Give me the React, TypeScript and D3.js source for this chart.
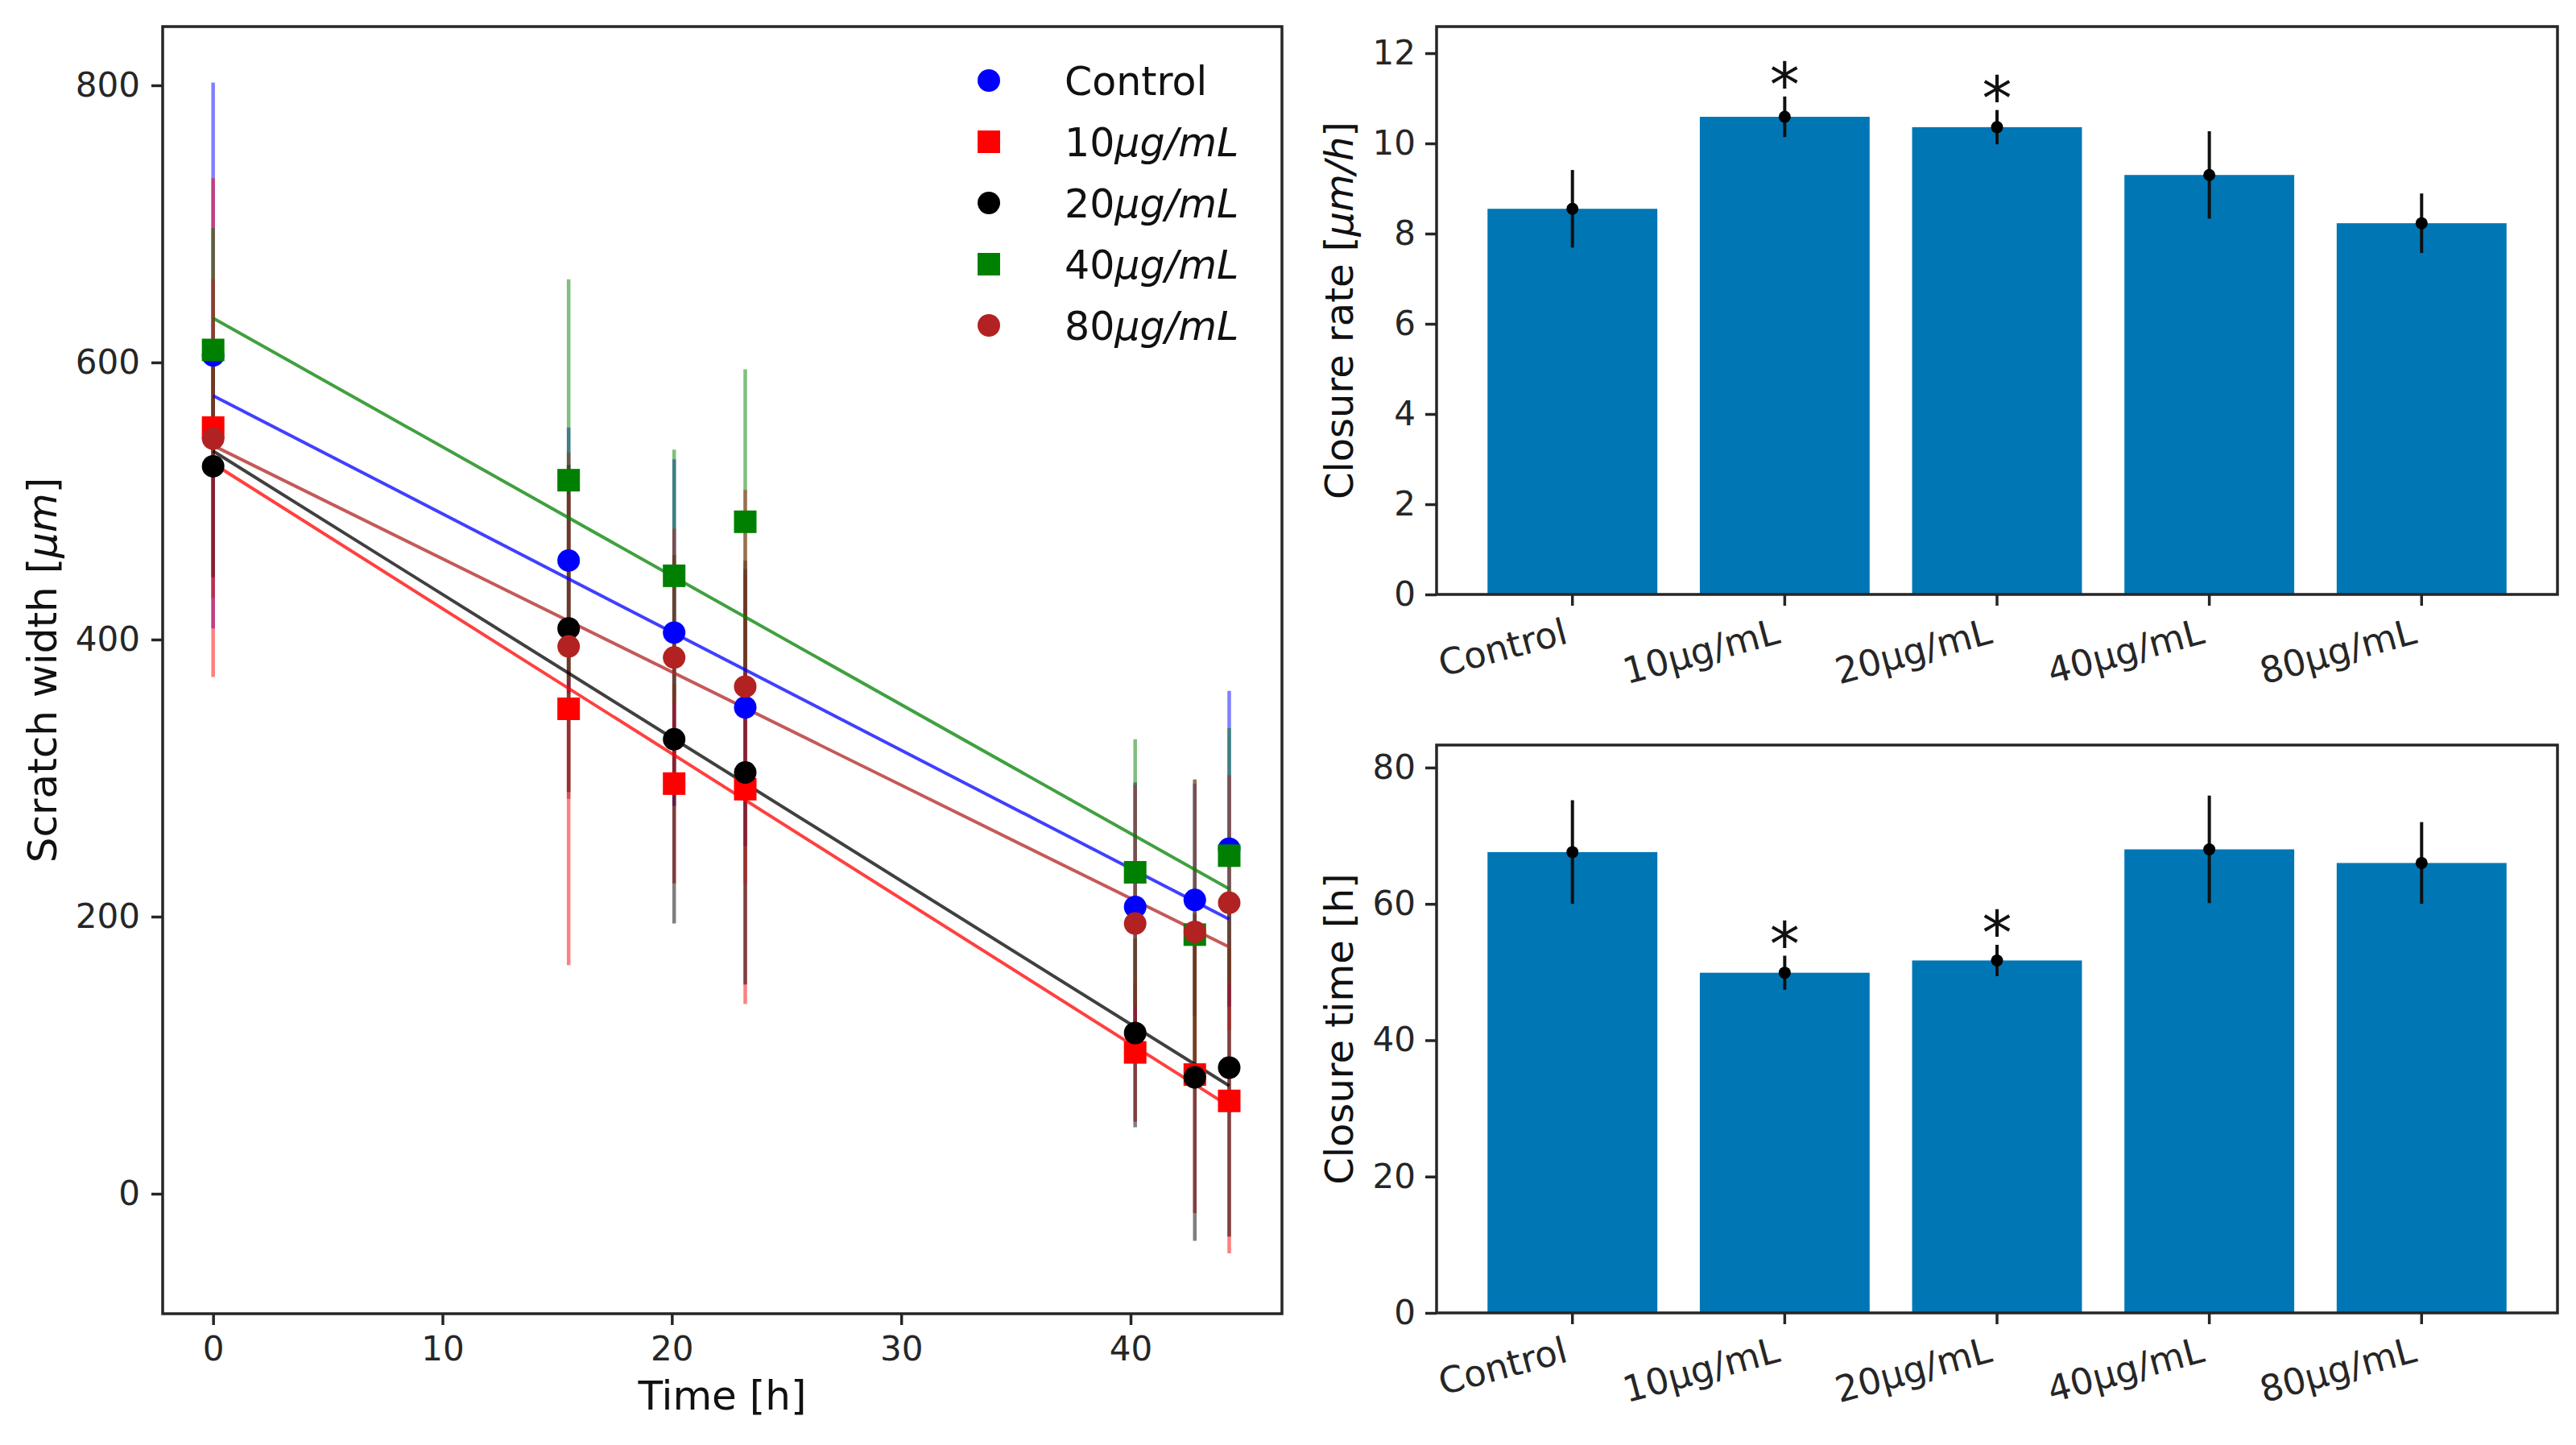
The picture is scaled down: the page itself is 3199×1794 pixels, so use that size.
import React, { useEffect, useRef } from 'react';
import * as d3 from 'd3';

// ---- scratch assay (left panel) ----
const times = [0, 15.5, 20.1, 23.2, 40.2, 42.8, 44.3];
const seriesLabels = ['Control', '10μg/mL', '20μg/mL', '40μg/mL', '80μg/mL'];
const seriesColors = ['#0000ff', '#ff0000', '#000000', '#008000', '#b22222'];
const seriesShapes = ['circle', 'square', 'circle', 'square', 'circle'];

const controlMean = [605, 457, 405, 351, 207, 212, 249];
const controlErr = [197, 96, 125, 100, 90, 84, 114];
const c10Mean = [553, 350, 296, 292, 102, 86, 67];
const c10Err = [180, 185, 72, 155, 50, 100, 110];
const c20Mean = [525, 408, 328, 304, 116, 84, 91];
const c20Err = [80, 118, 133, 153, 68, 118, 122];
const c40Mean = [609, 515, 446, 485, 232, 187, 244];
const c40Err = [88, 145, 91, 110, 96, 112, 92];
const c80Mean = [545, 395, 387, 366, 195, 189, 210];
const c80Err = [115, 110, 93, 142, 100, 110, 92];

// linear fits: value at t = 0 and slope (µm/h)
const fitStart = [576, 527, 536, 632, 540];
const fitSlope = [-8.53, -10.47, -10.34, -9.3, -8.17];

const xTicks = [0, 10, 20, 30, 40];
const yTicks = [0, 200, 400, 600, 800];

// ---- bar panels (right) ----
const categories = ['Control', '10μg/mL', '20μg/mL', '40μg/mL', '80μg/mL'];
const rateMean = [8.55, 10.59, 10.36, 9.3, 8.23];
const rateErr = [0.86, 0.45, 0.38, 0.97, 0.66];
const timeMean = [67.6, 49.9, 51.7, 68.0, 66.0];
const timeErr = [7.6, 2.5, 2.3, 7.9, 6.0];
const significant = [false, true, true, false, false];
const rateTicks = [0, 2, 4, 6, 8, 10, 12];
const timeTicks = [0, 20, 40, 60, 80];

const W = 3199;
const H = 1794;
const FONT = '"DejaVu Sans", sans-serif';
const INK = '#262626';
const BAR = '#0176b5';

const means = [controlMean, c10Mean, c20Mean, c40Mean, c80Mean];
const errs = [controlErr, c10Err, c20Err, c40Err, c80Err];

type Sel = d3.Selection<SVGGElement, unknown, null, undefined>;

function styleAxis(a: Sel) {
    a.select('.domain').remove();
    a.selectAll('.tick line').attr('stroke', INK).attr('stroke-width', 3.5);
    a.selectAll('.tick text')
        .attr('font-family', FONT)
        .attr('font-size', 42)
        .attr('fill', INK);
}

// text with an italic (mathtext-like) tail
function richText(sel: any, upright: string, italic: string) {
    sel.append('tspan').text(upright);
    if (italic) sel.append('tspan').attr('font-style', 'italic').text(italic);
}

const App: React.FC = () => {
    const svgRef = useRef<SVGSVGElement>(null);

    useEffect(() => {
        const svg = d3.select(svgRef.current);
        svg.selectAll('*').remove();
        svg.append('rect').attr('width', W).attr('height', H).attr('fill', '#fff');

        // ================= left panel =================
        const L = { x0: 202, x1: 1592, y0: 33, y1: 1631 };
        const x = d3.scaleLinear().domain([-2.2, 46.6]).range([L.x0, L.x1]);
        const y = d3.scaleLinear().domain([-86.6, 842.4]).range([L.y1, L.y0]);
        const g = svg.append('g') as unknown as Sel;

        styleAxis(
            g.append('g')
                .attr('transform', `translate(${L.x0},0)`)
                .call(d3.axisLeft(y).tickValues(yTicks).tickSize(14).tickPadding(14).tickFormat(d3.format('d')))
        );
        styleAxis(
            g.append('g')
                .attr('transform', `translate(0,${L.y1})`)
                .call(d3.axisBottom(x).tickValues(xTicks).tickSize(14).tickPadding(14).tickFormat(d3.format('d')))
        );

        // error bars (semi-transparent)
        means.forEach((m, s) => {
            g.selectAll(null)
                .data(times)
                .enter()
                .append('line')
                .attr('x1', d => x(d))
                .attr('x2', d => x(d))
                .attr('y1', (_, i) => y(m[i] - errs[s][i]))
                .attr('y2', (_, i) => y(m[i] + errs[s][i]))
                .attr('stroke', seriesColors[s])
                .attr('stroke-opacity', 0.5)
                .attr('stroke-width', 4.5);
        });

        // fit lines
        const tEnd = times[times.length - 1];
        const line = d3.line<number[]>().x(d => x(d[0])).y(d => y(d[1]));
        fitStart.forEach((b, s) => {
            g.append('path')
                .datum([[0, b], [tEnd, b + fitSlope[s] * tEnd]])
                .attr('d', line)
                .attr('fill', 'none')
                .attr('stroke', seriesColors[s])
                .attr('stroke-opacity', 0.75)
                .attr('stroke-width', 4);
        });

        // markers
        const sym = (shape: string) =>
            d3.symbol()
                .type(shape === 'square' ? d3.symbolSquare : d3.symbolCircle)
                .size(shape === 'square' ? 28 * 28 : Math.PI * 14 * 14)();
        means.forEach((m, s) => {
            g.selectAll(null)
                .data(times)
                .enter()
                .append('path')
                .attr('d', sym(seriesShapes[s]))
                .attr('transform', (d, i) => `translate(${x(d)},${y(m[i])})`)
                .attr('fill', seriesColors[s]);
        });

        // frame
        g.append('rect')
            .attr('x', L.x0).attr('y', L.y0)
            .attr('width', L.x1 - L.x0).attr('height', L.y1 - L.y0)
            .attr('fill', 'none').attr('stroke', INK).attr('stroke-width', 3.5);

        // legend (no frame)
        seriesLabels.forEach((lab, s) => {
            const cy = 100 + s * 76;
            g.append('path')
                .attr('d', sym(seriesShapes[s]))
                .attr('transform', `translate(1228,${cy})`)
                .attr('fill', seriesColors[s]);
            const t = g.append('text')
                .attr('x', 1322).attr('y', cy + 18)
                .attr('font-family', FONT).attr('font-size', 49).attr('fill', '#111');
            const k = lab.indexOf('μ');
            if (k < 0) richText(t, lab, '');
            else richText(t, lab.slice(0, k), lab.slice(k));
        });

        // axis labels
        const yl = g.append('text')
            .attr('transform', `translate(70,${(L.y0 + L.y1) / 2}) rotate(-90)`)
            .attr('text-anchor', 'middle')
            .attr('font-family', FONT).attr('font-size', 50).attr('fill', '#111');
        richText(yl, 'Scratch width [', 'μm');
        yl.append('tspan').text(']');
        g.append('text')
            .attr('x', (L.x0 + L.x1) / 2).attr('y', 1750)
            .attr('text-anchor', 'middle')
            .attr('font-family', FONT).attr('font-size', 50).attr('fill', '#111')
            .text('Time [h]');

        // ================= bar panels =================
        const drawBars = (
            y0: number, y1: number, top: number, ticks: number[],
            vals: number[], es: number[], label: (t: any) => void
        ) => {
            const R = { x0: 1784, x1: 3176 };
            const bx = d3.scaleBand().domain(categories).range([R.x0, R.x1]).paddingInner(0.2).paddingOuter(0.24);
            const by = d3.scaleLinear().domain([0, top]).range([y1, y0]);
            const p = svg.append('g') as unknown as Sel;

            styleAxis(
                p.append('g')
                    .attr('transform', `translate(${R.x0},0)`)
                    .call(d3.axisLeft(by).tickValues(ticks).tickSize(14).tickPadding(12).tickFormat(d3.format('d')))
            );
            const xa = p.append('g')
                .attr('transform', `translate(0,${y1})`)
                .call(d3.axisBottom(bx).tickSize(14).tickFormat(() => ''));
            styleAxis(xa);
            xa.selectAll('.tick text').remove();

            p.selectAll(null)
                .data(categories)
                .enter()
                .append('rect')
                .attr('x', d => bx(d) as number)
                .attr('width', bx.bandwidth())
                .attr('y', (_, i) => by(vals[i]))
                .attr('height', (_, i) => by(0) - by(vals[i]))
                .attr('fill', BAR);

            const cx = (d: string) => (bx(d) as number) + bx.bandwidth() / 2;

            p.selectAll(null)
                .data(categories)
                .enter()
                .append('line')
                .attr('x1', cx).attr('x2', cx)
                .attr('y1', (_, i) => by(vals[i] - es[i]))
                .attr('y2', (_, i) => by(vals[i] + es[i]))
                .attr('stroke', '#111').attr('stroke-width', 4);

            p.selectAll(null)
                .data(categories)
                .enter()
                .append('circle')
                .attr('cx', cx)
                .attr('cy', (_, i) => by(vals[i]))
                .attr('r', 7.5)
                .attr('fill', '#000');

            // significance stars
            p.selectAll(null)
                .data(categories.filter((_, i) => significant[i]))
                .enter()
                .append('text')
                .attr('x', cx)
                .attr('y', d => {
                    const i = categories.indexOf(d);
                    return by(vals[i] + es[i]) - 30 + 41;
                })
                .attr('text-anchor', 'middle')
                .attr('font-family', FONT).attr('font-size', 74).attr('fill', '#111')
                .text('*');

            // rotated category labels
            p.selectAll(null)
                .data(categories)
                .enter()
                .append('text')
                .attr('transform', d => `translate(${cx(d) - 4},${y1 + 60}) rotate(-15)`)
                .attr('text-anchor', 'end')
                .attr('font-family', FONT).attr('font-size', 45).attr('fill', INK)
                .text(d => d);

            p.append('rect')
                .attr('x', R.x0).attr('y', y0)
                .attr('width', R.x1 - R.x0).attr('height', y1 - y0)
                .attr('fill', 'none').attr('stroke', INK).attr('stroke-width', 3.5);

            const t = p.append('text')
                .attr('transform', `translate(1680,${(y0 + y1) / 2}) rotate(-90)`)
                .attr('text-anchor', 'middle')
                .attr('font-family', FONT).attr('font-size', 48).attr('fill', '#111');
            label(t);
        };

        drawBars(33, 738, 12.59, rateTicks, rateMean, rateErr, t => {
            richText(t, 'Closure rate [', 'μm/h');
            t.append('tspan').text(']');
        });
        drawBars(925, 1630, 83.3, timeTicks, timeMean, timeErr, t => {
            t.text('Closure time [h]');
        });
    }, []);

    return (
        <svg
            ref={svgRef}
            width={W}
            height={H}
            style={{ position: 'absolute', left: 0, top: 0, display: 'block' }}
        />
    );
};

export default App;
